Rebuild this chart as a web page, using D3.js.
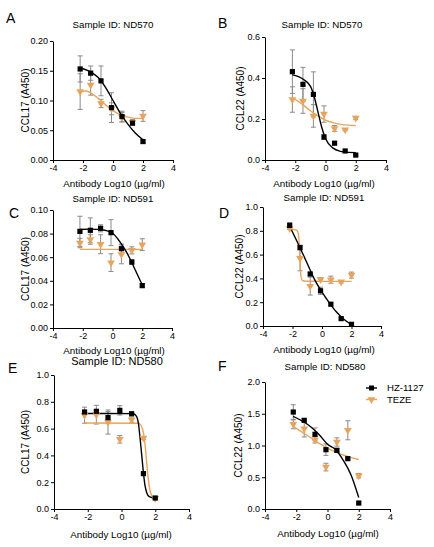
<!DOCTYPE html>
<html>
<head>
<meta charset="utf-8">
<script src="https://cdn.jsdelivr.net/npm/d3@7"></script>
<style>
  body { margin: 0; background: #fff; }
  svg text { font-family: "Liberation Sans", Arial, sans-serif; fill: #000; }
</style>
</head>
<body>
<svg id="fig" width="434" height="547"></svg>
<script>
// log10 antibody dose (5-fold dilution from 100 ug/ml)
const doses = [-2.19, -1.49, -0.8, -0.1, 0.6, 1.3, 2.0];
const xTicks = [-4, -2, 0, 2, 4];
const seriesNames = ["HZ-1127", "TEZE"];

// A - CCL17, ND570
const hzA = [0.153, 0.146, 0.133, 0.088, 0.073, 0.062, 0.031];
const hzAErr = [0.022, 0.012, 0.025, 0.025, 0.009, 0.004, 0.003];
const tezeA = [0.115, 0.126, 0.095, 0.086, 0.072, 0.064, 0.074];
const tezeAErr = [0.03, 0.017, 0.007, 0.01, 0.008, 0.004, 0.009];
const hzAFit = [[-2.2, .155], [-1.5, .148], [-1, .139], [-0.5, .122], [0, .1], [0.5, .078], [1, .06], [1.5, .045], [2, .034]];
const tezeAFit = [[-2.2, .115], [-1.8, .116], [-1.5, .113], [-1, .104], [-0.5, .093], [0, .083], [0.5, .076], [1, .072], [1.5, .07], [2, .07]];

// B - CCL22, ND570
const hzB = [0.431, 0.369, 0.32, 0.112, 0.082, 0.044, 0.024];
const hzBErr = [0.106, 0.083, 0.11, 0.012, 0.008, 0.005, 0.004];
const tezeB = [0.295, 0.288, 0.215, 0.224, 0.154, 0.148, 0.205];
const tezeBErr = [0.062, 0.06, 0.055, 0.04, 0.014, 0.005, 0.008];
const hzBFit = [[-2.2, .415], [-1.5, .395], [-1, .36], [-0.75, .31], [-0.5, .235], [-0.25, .16], [0, .105], [0.5, .058], [1, .042], [1.5, .037], [2, .036]];
const tezeBFit = [[-2.2, .305], [-1.5, .27], [-1, .24], [-0.5, .215], [0, .195], [0.5, .182], [1, .174], [1.5, .17], [2, .168]];

// C - CCL17, ND591
const hzC = [0.0819, 0.0828, 0.0845, 0.0808, 0.0672, 0.0559, 0.0359];
const hzCErr = [0.0128, 0.0105, 0.003, 0.011, 0.004, 0.002, 0.0015];
const tezeC = [0.072, 0.075, 0.071, 0.0554, 0.0624, 0.0658, 0.0706];
const tezeCErr = [0.004, 0.004, 0.008, 0.0075, 0.008, 0.003, 0.005];
const hzCFit = [[-2.2, .0835], [-1.5, .0838], [-1, .0836], [-0.5, .0828], [0, .0805], [0.5, .073], [1, .063], [1.5, .05], [2, .0365]];
const tezeCFit = [[-2.2, .0666], [2, .0666]];

// D - CCL22, ND591
const hzD = [0.845, 0.659, 0.437, 0.296, 0.183, 0.062, 0.014];
const hzDErr = [0.025, 0.02, 0.015, 0.03, 0.01, 0.01, 0.005];
const tezeD = [0.82, 0.569, 0.335, 0.39, 0.389, 0.372, 0.428];
const tezeDErr = [0.01, 0.105, 0.075, 0.015, 0.03, 0.01, 0.025];
const hzDFit = [[-2.2, .84], [-1.5, .66], [-1, .525], [-0.5, .39], [0, .285], [0.5, .195], [1, .115], [1.5, .055], [2, .012]];
const tezeDFit = [[-2.2, .812], [-1.8, .81], [-1.65, .795], [-1.57, .74], [-1.52, .63], [-1.47, .5], [-1.42, .41], [-1.32, .38], [-1.1, .376], [2, .375]];

// E - CCL17, ND580
const hzE = [0.724, 0.729, 0.682, 0.736, 0.711, 0.264, 0.082];
const hzEErr = [0.012, 0.01, 0.045, 0.035, 0.01, 0.01, 0.005];
const tezeE = [0.70, 0.704, 0.649, 0.52, 0.667, 0.53, 0.08];
const tezeEErr = [0.06, 0.07, 0.09, 0.028, 0.02, 0.01, 0.005];
const hzEFit = [[-2.2, .713], [0.7, .712], [0.9, .69], [1.0, .64], [1.1, .53], [1.2, .4], [1.3, .27], [1.4, .17], [1.5, .12], [1.65, .092], [2.0, .08]];
const tezeEFit = [[-2.2, .642], [1.0, .64], [1.15, .625], [1.25, .595], [1.35, .53], [1.45, .41], [1.55, .27], [1.65, .165], [1.75, .11], [1.9, .088], [2.0, .083]];

// F - CCL22, ND580
const hzF = [1.527, 1.396, 1.176, 0.934, 0.924, 0.793, 0.094];
const hzFErr = [0.115, 0.03, 0.1, 0.09, 0.03, 0.02, 0.02];
const tezeF = [1.333, 1.265, 1.09, 0.66, 1.055, 1.24, 0.525];
const tezeFErr = [0.07, 0.13, 0.05, 0.06, 0.065, 0.15, 0.035];
const hzFFit = [[-2.2, 1.46], [-1.5, 1.37], [-1, 1.28], [-0.5, 1.16], [0, 1.02], [0.5, 0.94], [1, 0.77], [1.5, 0.54], [2, 0.18]];
const tezeFFit = [[-2.2, 1.30], [-1.5, 1.19], [-1, 1.11], [-0.5, 1.03], [0, 0.96], [0.5, 0.9], [1, 0.85], [1.5, 0.81], [2, 0.78]];

const BLACK = "#000";
const ORANGE = "#E9A45C";
const ERR = "#8a8a8a";

// panel layout: box is pixel edges of the plot (x=-4..4, y=0..max)
const panels = [
  { letter: "A", title: "Sample ID: ND570", yLabel: "CCL17 (A450)", yTicks: [0, 0.05, 0.1, 0.15, 0.2], fmt: ".2f",
    hz: hzA, hzErr: hzAErr, teze: tezeA, tezeErr: tezeAErr, hzFit: hzAFit, tezeFit: tezeAFit,
    box: { l: 53, r: 173, t: 41, b: 160 }, titleX: 113, titleY: 25, letterX: 6, letterY: 23,
    xLabX: 114, xLabY: 184, yLabX: 25, titleSize: 9.7 },
  { letter: "B", title: "Sample ID: ND570", yLabel: "CCL22 (A450)", yTicks: [0, 0.2, 0.4, 0.6], fmt: ".1f",
    hz: hzB, hzErr: hzBErr, teze: tezeB, tezeErr: tezeBErr, hzFit: hzBFit, tezeFit: tezeBFit,
    box: { l: 265, r: 386, t: 37, b: 160 }, titleX: 322, titleY: 25, letterX: 218, letterY: 28,
    xLabX: 324, xLabY: 184, yLabX: 240, titleSize: 9.7 },
  { letter: "C", title: "Sample ID: ND591", yLabel: "CCL17 (A450)", yTicks: [0, 0.02, 0.04, 0.06, 0.08, 0.1], fmt: ".2f",
    hz: hzC, hzErr: hzCErr, teze: tezeC, tezeErr: tezeCErr, hzFit: hzCFit, tezeFit: tezeCFit,
    box: { l: 53, r: 172, t: 210, b: 328 }, titleX: 113, titleY: 199, letterX: 9, letterY: 218,
    xLabX: 114, xLabY: 351, yLabX: 25, titleSize: 9.7 },
  { letter: "D", title: "Sample ID: ND591", yLabel: "CCL22 (A450)", yTicks: [0, 0.2, 0.4, 0.6, 0.8, 1.0], fmt: ".1f",
    hz: hzD, hzErr: hzDErr, teze: tezeD, tezeErr: tezeDErr, hzFit: hzDFit, tezeFit: tezeDFit,
    box: { l: 263, r: 381, t: 207, b: 326 }, titleX: 324, titleY: 198, letterX: 219, letterY: 218,
    xLabX: 324, xLabY: 350, yLabX: 239, titleSize: 9.7 },
  { letter: "E", title: "Sample ID: ND580", yLabel: "CCL17 (A450)", yTicks: [0, 0.2, 0.4, 0.6, 0.8, 1.0], fmt: ".1f",
    hz: hzE, hzErr: hzEErr, teze: tezeE, tezeErr: tezeEErr, hzFit: hzEFit, tezeFit: tezeEFit,
    box: { l: 54, r: 189, t: 375, b: 509 }, titleX: 117, titleY: 361, letterX: 8, letterY: 373,
    xLabX: 121, xLabY: 535, yLabX: 25, titleSize: 11 },
  { letter: "F", title: "Sample ID: ND580", yLabel: "CCL22 (A450)", yTicks: [0, 0.5, 1.0, 1.5, 2.0], fmt: ".1f",
    hz: hzF, hzErr: hzFErr, teze: tezeF, tezeErr: tezeFErr, hzFit: hzFFit, tezeFit: tezeFFit,
    box: { l: 265, r: 390, t: 382, b: 509 }, titleX: 325, titleY: 367, letterX: 218, letterY: 371,
    xLabX: 328, xLabY: 534, yLabX: 238, titleSize: 9.7, legend: true }
];

const svg = d3.select("#fig");
const triangle = d3.symbol(d3.symbolTriangle, 26);

function drawPanel(p) {
  const x = d3.scaleLinear().domain([-4, 4]).range([p.box.l, p.box.r]);
  const y = d3.scaleLinear().domain([0, p.yTicks[p.yTicks.length - 1]]).range([p.box.b, p.box.t]);
  const g = svg.append("g");

  // axes
  const xa = g.append("g")
    .attr("transform", `translate(0,${p.box.b})`)
    .call(d3.axisBottom(x).tickValues(xTicks).tickSize(3).tickSizeOuter(0).tickPadding(2)
      .tickFormat(d => String(d)));
  const ya = g.append("g")
    .attr("transform", `translate(${p.box.l},0)`)
    .call(d3.axisLeft(y).tickValues(p.yTicks).tickSize(3).tickSizeOuter(0).tickPadding(2)
      .tickFormat(d3.format(p.fmt)));
  [xa, ya].forEach(a => {
    a.selectAll("path, line").attr("stroke", "#000").attr("stroke-width", 1);
    a.selectAll("text").attr("font-size", 9).attr("fill", "#000")
      .attr("font-family", '"Liberation Sans", Arial, sans-serif');
  });

  // labels
  g.append("text").attr("x", p.titleX).attr("y", p.titleY).attr("dy", "0.35em")
    .attr("text-anchor", "middle").attr("font-size", p.titleSize).text(p.title);
  g.append("text").attr("x", p.letterX).attr("y", p.letterY)
    .attr("font-size", 14).text(p.letter);
  g.append("text").attr("x", p.xLabX).attr("y", p.xLabY).attr("dy", "0.35em")
    .attr("text-anchor", "middle").attr("font-size", 9.8).text("Antibody Log10 (\u00b5g/ml)");
  g.append("text")
    .attr("transform", `translate(${p.yLabX},${(p.box.t + p.box.b) / 2}) rotate(-90)`)
    .attr("dy", "0.35em").attr("text-anchor", "middle").attr("font-size", 10).text(p.yLabel);

  // error bars
  const series = [
    { vals: p.teze, err: p.tezeErr, fit: p.tezeFit, color: ORANGE },
    { vals: p.hz, err: p.hzErr, fit: p.hzFit, color: BLACK }
  ];
  series.forEach(s => {
    const eb = g.append("g").attr("stroke", ERR).attr("stroke-width", 1);
    doses.forEach((d, i) => {
      const lo = y(s.vals[i] - s.err[i]), hi = y(s.vals[i] + s.err[i]), cx = x(d);
      eb.append("line").attr("x1", cx).attr("x2", cx).attr("y1", lo).attr("y2", hi);
      eb.append("line").attr("x1", cx - 2.5).attr("x2", cx + 2.5).attr("y1", lo).attr("y2", lo);
      eb.append("line").attr("x1", cx - 2.5).attr("x2", cx + 2.5).attr("y1", hi).attr("y2", hi);
    });
  });

  // fitted curves
  const line = d3.line().x(d => x(d[0])).y(d => y(d[1])).curve(d3.curveMonotoneX);
  series.forEach(s => {
    g.append("path").datum(s.fit).attr("d", line)
      .attr("fill", "none").attr("stroke", s.color).attr("stroke-width", 1.4);
  });

  // points
  g.selectAll(".tri").data(p.teze).join("path").attr("class", "tri")
    .attr("d", triangle)
    .attr("transform", (v, i) => `translate(${x(doses[i])},${y(v)}) rotate(180)`)
    .attr("fill", ORANGE);
  g.selectAll(".sq").data(p.hz).join("rect").attr("class", "sq")
    .attr("x", (v, i) => x(doses[i]) - 2.6).attr("y", v => y(v) - 2.6)
    .attr("width", 5.2).attr("height", 5.2).attr("fill", BLACK);

  if (p.legend) {
    const lg = g.append("g");
    [BLACK, ORANGE].forEach((c, i) => {
      const ly = 388 + i * 11.5;
      lg.append("line").attr("x1", 366).attr("x2", 377).attr("y1", ly).attr("y2", ly)
        .attr("stroke", c).attr("stroke-width", 1.4);
      if (i === 0) {
        lg.append("rect").attr("x", 369).attr("y", ly - 2.5).attr("width", 5).attr("height", 5).attr("fill", c);
      } else {
        lg.append("path").attr("d", triangle).attr("transform", `translate(371.5,${ly}) rotate(180)`).attr("fill", c);
      }
      lg.append("text").attr("x", 387).attr("y", ly).attr("dy", "0.35em")
        .attr("font-size", 9.6).text(seriesNames[i]);
    });
  }
}

panels.forEach(drawPanel);
</script>
</body>
</html>
